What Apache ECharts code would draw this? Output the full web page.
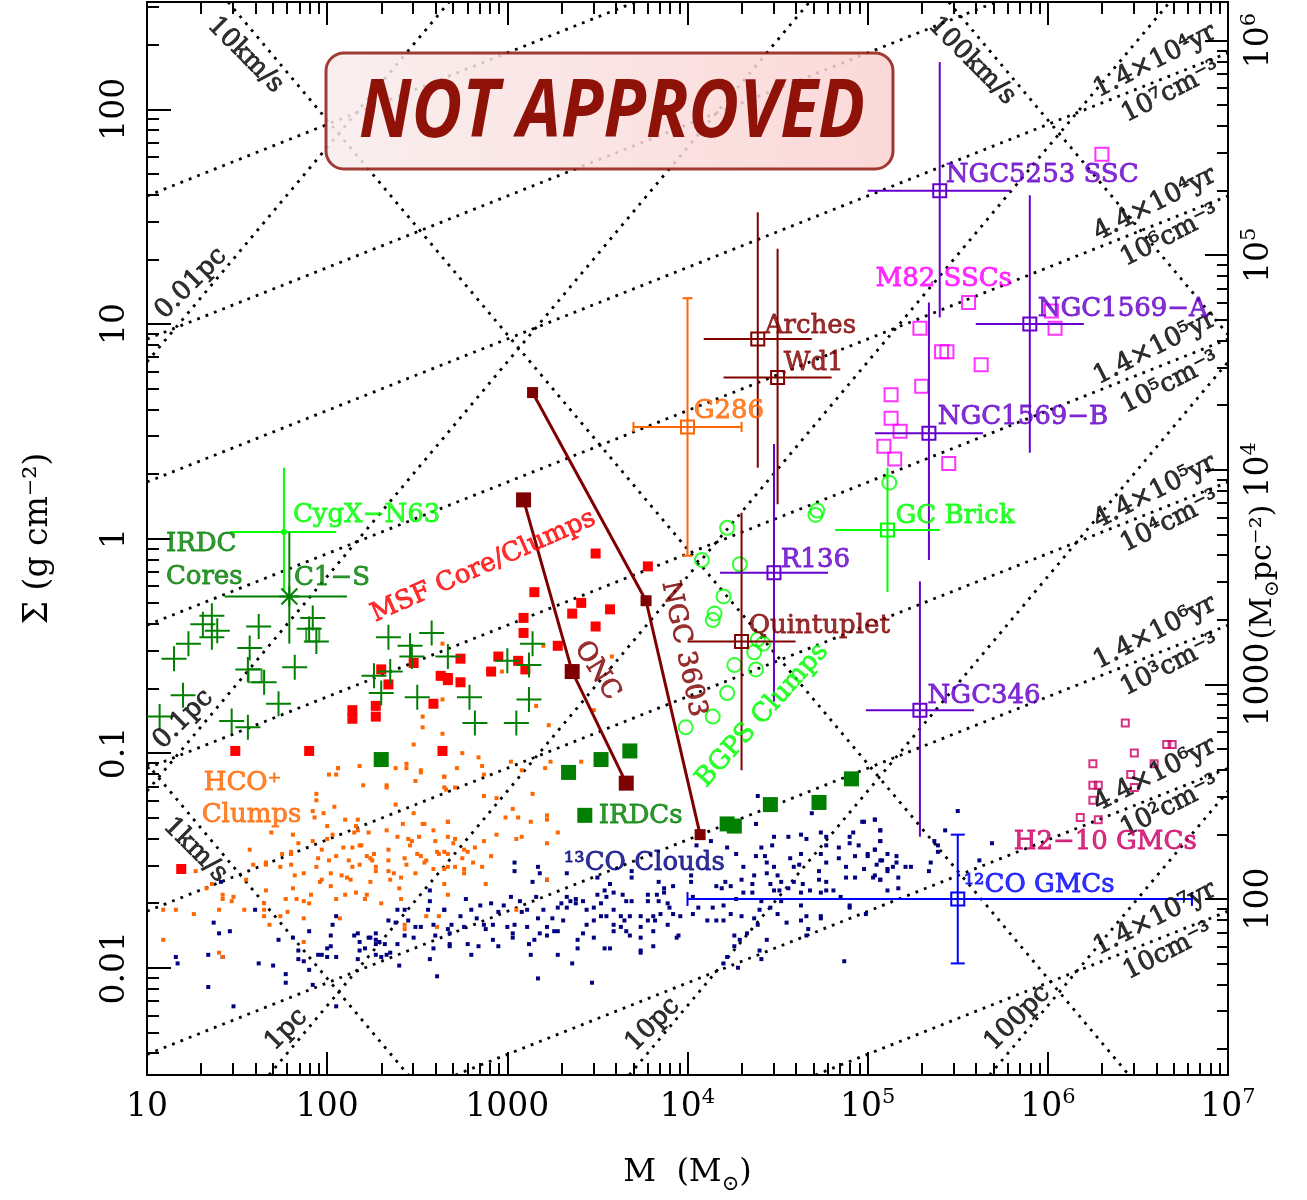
<!DOCTYPE html>
<html>
<head>
<meta charset="utf-8">
<title>Surface density vs mass</title>
<script src="https://cdn.jsdelivr.net/npm/echarts@6.0.0/dist/echarts.min.js"></script>
<style>
  html, body { margin: 0; padding: 0; background: #fff; }
  #chart { width: 1307px; height: 1200px; }
</style>
</head>
<body>
<div id="chart"></div>
<script>
// every value below is log10: x = log M (Msun), y = log Sigma (g cm^-2)
const xTicks = [1, 2, 3, 4, 5, 6, 7]
const xTickLabels = ['10', '100', '1000', '10^4', '10^5', '10^6', '10^7']
const yTicks = [-2, -1, 0, 1, 2]
const yTickLabels = ['0.01', '0.1', '1', '10', '100']
// right hand axis is Sigma in Msun pc^-2
const rightTicks = [2, 3, 4, 5, 6]
const rightTickLabels = ['100', '1000', '10^4', '10^5', '10^6']
const gcm2ToMsunPc2 = 3.680 // log10(4788)

const co13Clouds = [
  [1.16,-1.95],[1.17,-1.98],[1.34,-1.94],[1.34,-2.09],[1.37,-1.79],[1.40,-1.84],[1.42,-1.95],[1.46,-1.83],[1.48,-2.18],[1.41,-1.60],
  [1.60,-1.73],[1.62,-1.98],[1.70,-1.99],[1.73,-1.87],[1.77,-2.03],[1.77,-2.07],[1.81,-1.86],[1.84,-1.92],[1.84,-1.96],[1.87,-1.97],
  [1.90,-1.83],[1.90,-2.01],[1.92,-2.08],[1.95,-1.94],[1.97,-1.94],[2.00,-1.91],[2.00,-1.95],[2.02,-1.90],[2.02,-1.85],[2.03,-1.80],
  [2.05,-1.76],[2.05,-1.95],[2.05,-2.18],[2.15,-1.85],[2.17,-1.84],[2.18,-1.88],[2.18,-1.92],[2.17,-1.96],[2.21,-1.91],[2.23,-1.86],
  [2.24,-1.86],[2.27,-1.84],[2.27,-1.87],[2.27,-1.89],[2.29,-1.88],[2.27,-1.94],[2.32,-1.89],[2.33,-1.94],[2.30,-1.95],[2.35,-1.93],
  [2.39,-1.89],[2.40,-1.99],[2.39,-1.73],[2.43,-1.73],[2.45,-1.78],[2.34,-1.78],[2.38,-1.79],[2.43,-1.85],[2.48,-1.86],[2.49,-1.81],
  [2.52,-1.81],[2.57,-1.64],[2.57,-1.69],[2.56,-1.73],[2.59,-1.80],[2.60,-1.85],[2.59,-1.91],[2.57,-1.96],[2.61,-2.04],[2.65,-1.73],
  [2.67,-1.82],[2.68,-1.89],
  [3.04,-1.51],[3.04,-1.55],[3.17,-1.53],[3.18,-1.56],[3.14,-1.60],[3.33,-1.56],[3.50,-1.58],[3.57,-1.61],[3.69,-1.58],[3.69,-1.55],
  [3.84,-1.60],[3.92,-1.62],[3.87,-1.63],[4.02,-1.57],[4.02,-1.60],[4.05,-1.43],[4.13,-1.41],[4.22,-1.44],[4.27,-1.47],[4.31,-1.53],
  [4.39,-1.20],[4.38,-1.33],[4.48,-1.39],[4.56,-1.39],[4.63,-1.38],[4.66,-1.40],[4.74,-1.37],[4.77,-1.39],[4.77,-1.43],[4.84,-1.44],
  [4.90,-1.39],[4.90,-1.42],[4.92,-1.37],[4.95,-1.43],[5.04,-1.31],[5.07,-1.36],[5.07,-1.41],[5.04,-1.45],[5.00,-1.47],[4.69,-1.28],
  [4.97,-1.32],[4.41,-1.44],[4.47,-1.43],[4.38,-1.48],[4.43,-1.48],[4.44,-1.51],[4.48,-1.53],[4.57,-1.49],[4.63,-1.47],[4.62,-1.52],
  [4.59,-1.53],[4.74,-1.47],[4.77,-1.51],[4.84,-1.49],[4.93,-1.48],[5.11,-1.47],[5.08,-1.50],[5.11,-1.55],[4.73,-1.55],[4.73,-1.59],
  [4.88,-1.53],[4.88,-1.58],[4.93,-1.58],[5.03,-1.58],[5.07,-1.59],[4.77,-1.60],[4.77,-1.64],[4.81,-1.64],[4.85,-1.67],[4.90,-1.71],
  [4.90,-1.72],[4.63,-1.65],[4.68,-1.64],[4.74,-1.65],[4.63,-1.71],[4.66,-1.76],[4.74,-1.76],[4.63,-1.78],[4.74,-1.77],[4.67,-1.82],
  [4.66,-1.85],[4.87,-1.97],
  [4.03,-1.67],[4.06,-1.72],[4.03,-1.75],[4.11,-1.78],[4.16,-1.78],[4.20,-1.78],[4.14,-1.72],[4.20,-1.71],[4.24,-1.75],[4.27,-1.68],
  [4.31,-1.65],[4.36,-1.65],[4.41,-1.69],[4.46,-1.72],[4.50,-1.75],[4.52,-1.69],[4.40,-1.73],[4.37,-1.77],[4.30,-1.76],[4.26,-1.85],
  [4.29,-1.87],[4.33,-1.84],[4.39,-1.80],[4.44,-1.87],[4.55,-1.79],[4.40,-1.92],[4.41,-1.96],[4.28,-2.00],[4.26,-1.90],[4.22,-1.95],
  [4.20,-1.98],[4.16,-1.62],[4.21,-1.60],[4.30,-1.59],[4.36,-1.61],[4.37,-1.57],[4.44,-1.56],[4.50,-1.57],[4.52,-1.60],[4.56,-1.63],
  [4.59,-1.60],[4.64,-1.61],[4.48,-1.64],[4.51,-1.64],[4.46,-1.61],[4.24,-1.62],[4.19,-1.63],
  [3.38,-1.68],[3.38,-1.70],[3.42,-1.69],[3.44,-1.73],[3.48,-1.72],[3.50,-1.66],[3.52,-1.70],[3.54,-1.64],[3.55,-1.67],[3.59,-1.65],
  [3.64,-1.66],[3.66,-1.69],[3.69,-1.69],[3.74,-1.76],[3.78,-1.69],[3.78,-1.66],[3.83,-1.66],[3.84,-1.69],[3.87,-1.65],[3.89,-1.70],
  [3.90,-1.72],[3.92,-1.75],[3.96,-1.76],[3.85,-1.75],[3.81,-1.76],[3.78,-1.78],[3.74,-1.81],[3.68,-1.76],[3.65,-1.78],[3.63,-1.76],
  [3.59,-1.73],[3.55,-1.76],[3.52,-1.76],[3.48,-1.78],[3.44,-1.80],[3.42,-1.84],[3.48,-1.86],[3.54,-1.91],[3.57,-1.91],[3.59,-1.83],
  [3.63,-1.81],[3.66,-1.83],[3.68,-1.85],[3.74,-1.86],[3.74,-1.92],[3.74,-1.93],[3.81,-1.90],[3.81,-1.83],[3.94,-1.86],[3.95,-1.85],
  [3.82,-1.78],[3.89,-1.80],[3.59,-1.80],
  [2.65,-1.73],[2.68,-1.84],[2.69,-1.80],[2.68,-1.90],[2.74,-1.76],[2.76,-1.81],[2.77,-1.68],[2.80,-1.94],[2.78,-1.89],[2.80,-1.73],
  [2.83,-1.77],[2.84,-1.90],[2.85,-1.71],[2.87,-1.80],[2.88,-1.82],[2.91,-1.70],[2.92,-1.80],[2.92,-1.87],[2.95,-1.74],[2.95,-1.90],
  [2.98,-1.71],[3.00,-1.81],[3.02,-1.67],[3.03,-1.84],[3.03,-1.86],[3.04,-1.80],[3.07,-1.69],[3.08,-1.74],[3.11,-1.73],[3.11,-1.81],
  [3.12,-1.89],[3.13,-1.94],[3.15,-1.87],[3.17,-1.77],[3.18,-1.84],[3.16,-1.67],[3.20,-1.73],[3.22,-1.81],[3.22,-1.85],[3.26,-1.83],
  [3.28,-1.83],[3.28,-1.94],[3.25,-1.77],[3.28,-1.72],[3.30,-1.70],[3.33,-1.72],[3.31,-1.78],[3.33,-1.67],[3.35,-1.69],[3.39,-1.87],
  [3.39,-1.91],[3.36,-1.98],[3.17,-2.05],[3.47,-2.07],[3.22,-1.59],
  [4.98,-1.32],[5.04,-1.31],[5.07,-1.36],[5.07,-1.41],[5.04,-1.45],[5.00,-1.48],[4.98,-1.54],[5.05,-1.52],[5.07,-1.50],[5.11,-1.54],
  [5.14,-1.53],[5.16,-1.48],[5.16,-1.51],[5.17,-1.58],[5.17,-1.63],[5.11,-1.64],[5.04,-1.57],[5.07,-1.59],[5.21,-1.53],[5.24,-1.53],
  [5.35,-1.51],[5.34,-1.55],[5.37,-1.41],[5.39,-1.43],[5.39,-1.46],[5.43,-1.36],[5.50,-1.27],[5.62,-1.50],[5.69,-1.42],[4.99,-1.75]
]

const hcoClumps = [
  [1.09,-1.73],[1.16,-1.73],[1.09,-1.87],[1.26,-1.75],[1.27,-1.55],[1.33,-1.63],[1.36,-1.61],[1.40,-1.93],[1.42,-1.95],[1.40,-1.73],
  [1.42,-1.66],[1.42,-1.68],[1.48,-1.67],[1.47,-1.69],[1.54,-1.73],[1.55,-1.59],[1.57,-1.45],[1.59,-1.52],[1.65,-1.70],[1.65,-1.73],
  [1.65,-1.76],[1.66,-1.64],[1.66,-1.51],[1.66,-1.52],[1.68,-1.80],[1.69,-1.37],[1.74,-1.53],[1.74,-1.76],[1.75,-1.47],[1.77,-1.68],
  [1.78,-1.74],[1.80,-1.46],[1.80,-1.52],[1.80,-1.47],[1.81,-1.38],[1.81,-1.63],[1.82,-1.57],[1.83,-1.68],[1.84,-1.42],[1.87,-1.56],
  [1.87,-1.69],[1.87,-1.77],[1.87,-1.88],[1.90,-1.70],[1.91,-1.66],[1.92,-1.27],[1.92,-1.41],[1.93,-1.30],[1.94,-1.22],[1.94,-1.19],
  [1.94,-1.53],[1.95,-1.49],[1.96,-1.60],[1.97,-1.59],[1.97,-1.45],[1.98,-1.28],[2.00,-1.40],[2.00,-1.34],[2.01,-1.50],[2.02,-1.62],
  [2.02,-1.56],[2.03,-1.38],[2.04,-1.25],[2.05,-1.48],[2.05,-1.68],[2.06,-1.07],[2.01,-1.10],[2.05,-1.10],[2.07,-1.77],[2.08,-1.57],
  [2.09,-1.44],[2.10,-1.31],[2.10,-1.66],[2.11,-1.58],[2.12,-1.50],[2.13,-1.59],[2.14,-1.53],[2.15,-1.37],[2.14,-1.44],[2.16,-1.65],
  [2.16,-1.34],[2.17,-1.31],[2.17,-1.36],[2.18,-1.43],[2.18,-1.52],[2.19,-1.43],[2.20,-1.15],[2.21,-1.68],[2.22,-1.66],[2.22,-1.48],
  [2.23,-1.37],[2.24,-1.60],[2.24,-1.49],[2.25,-1.50],[2.26,-1.47],[2.27,-1.55],[2.27,-1.53],[2.30,-1.70],[2.33,-1.15],[2.33,-1.16],
  [2.33,-1.36],[2.34,-1.45],[2.34,-1.50],[2.34,-1.55],[2.35,-1.59],[2.37,-1.56],[2.38,-1.24],[2.39,-1.39],[2.40,-1.63],[2.41,-1.58],
  [2.41,-1.68],[2.42,-1.33],[2.43,-1.82],[2.43,-1.80],[2.43,-1.49],[2.44,-1.07],[2.44,-1.52],[2.45,-1.40],[2.46,-1.43],[2.47,-1.41],
  [2.48,-1.28],[2.49,-1.13],[2.49,-1.56],[2.50,-1.47],[2.51,-1.39],[2.52,-1.48],[2.52,-1.08],[2.53,-1.33],[2.54,-1.33],[2.54,-1.51],
  [2.55,-1.50],[2.55,-1.76],[2.59,-1.36],[2.59,-1.54],[2.60,-1.41],[2.61,-1.46],[2.62,-1.47],[2.61,-1.81],[2.62,-1.76],[2.65,-1.11],
  [2.66,-1.17],[2.67,-1.32],[2.67,-1.53],[2.67,-1.39],
  [2.64,-0.49],[2.53,-0.83],[2.53,-0.88],[2.64,-0.91],[2.48,-0.96],[2.44,-1.05],[2.38,-1.07],[2.18,-1.06],[2.06,-1.07],[2.52,-1.09],
  [2.64,-0.75],[2.97,-0.62],[3.20,-0.50],[3.58,-0.55],[3.48,-0.80],[3.16,-0.78],[3.23,-0.87],[2.75,-1.00],[2.84,-1.02],[2.86,-1.06],
  [2.72,-1.07],[3.02,-1.04],[3.08,-1.08],[3.24,-1.04],[3.41,-1.04],[3.21,-1.07],
  [2.87,-1.10],[2.65,-1.16],[2.71,-1.16],[2.65,-1.11],[2.87,-1.20],[2.94,-1.21],[2.99,-1.30],[3.03,-1.26],[3.06,-1.30],[3.13,-1.32],
  [3.22,-1.29],[3.22,-1.31],[3.14,-1.19],[3.28,-1.37],[3.22,-1.42],[3.05,-1.40],[3.08,-1.39],[2.94,-1.38],[2.87,-1.41],[2.82,-1.44],
  [2.71,-1.40],[2.70,-1.42],[2.76,-1.45],[2.75,-1.49],[2.67,-1.47],[2.67,-1.32],[2.78,-1.46],[2.76,-1.56],[2.81,-1.51],[2.86,-1.53],
  [2.91,-1.48],[2.76,-1.54],[2.88,-1.61],[2.71,-1.53],[2.65,-1.46],[2.65,-1.54],[2.67,-1.66],[3.05,-1.73],[3.22,-1.59],[2.65,-1.61]
]

const msfClumps = [
  [1.19,-1.54],[2.30,-0.61],[2.34,-0.68],[2.63,-0.64],[2.67,-0.65],[2.48,-0.58],[2.59,-0.77],[2.14,-0.80],[2.14,-0.84],[2.27,-0.78],
  [2.27,-0.83],[1.49,-0.99],[1.90,-0.99],[2.64,-0.99],[3.49,-0.07],[3.78,-0.13],[3.15,-0.25],[3.41,-0.30],[3.57,-0.33],[3.36,-0.35],
  [3.49,-0.41],[3.09,-0.37],[3.09,-0.44],[3.28,-0.50],[2.74,-0.56],[2.95,-0.55],[3.06,-0.57],[3.10,-0.61],[2.91,-0.62],[2.67,-0.66],
  [2.74,-0.67]
]

const irdcCores = [
  [1.36,-0.36],[1.31,-0.40],[1.39,-0.43],[1.36,-0.46],[1.23,-0.49],[1.15,-0.56],[1.62,-0.41],[1.57,-0.51],[1.56,-0.61],[1.65,-0.67],
  [1.82,-0.60],[1.20,-0.73],[1.07,-0.83],[1.47,-0.85],[1.56,-0.88],[1.73,-0.77],[1.92,-0.37],[1.90,-0.42],[1.94,-0.48],[2.34,-0.46],
  [2.46,-0.50],[2.47,-0.55],[2.58,-0.44],[2.26,-0.64],[2.35,-0.62],[2.30,-0.72],[2.50,-0.74],[2.67,-0.55],[3.14,-0.49],[3.00,-0.57],
  [3.12,-0.59],[2.79,-0.74],[3.12,-0.75],[2.82,-0.86],[3.05,-0.86]
]
const irdcCoreBoxes = [[1.60,-0.64],[1.92,-0.45]]

const irdcs = [[2.30,-1.03],[3.34,-1.09],[3.43,-1.29],[3.52,-1.03],[3.68,-0.99],[4.22,-1.33],[4.26,-1.34],[4.46,-1.24],[4.73,-1.23],[4.91,-1.12]]

const bgpsClumps = [
  [4.08,-0.10],[4.22,0.05],[4.29,-0.12],[4.20,-0.27],[4.14,-0.38],[4.15,-0.35],[4.72,0.13],[4.71,0.11],[4.39,-0.47],[4.42,-0.49],
  [4.37,-0.53],[4.26,-0.59],[4.38,-0.61],[4.22,-0.72],[4.14,-0.83],[3.99,-0.88],[5.12,0.26]
]

const onc = [[3.09,0.18],[3.36,-0.62],[3.66,-1.14]]
const ngc3603 = [[3.14,0.68],[3.77,-0.29],[4.07,-1.38]]

const m82SSCs = [
  [6.30,1.79],[5.56,1.10],[5.29,0.98],[6.04,0.98],[5.41,0.87],[5.44,0.87],[5.63,0.81],[5.30,0.71],[5.13,0.67],[5.13,0.56],
  [5.18,0.50],[5.09,0.43],[5.15,0.37],[5.45,0.35],[6.02,1.06]
]

const h210GMCs = [
  [6.43,-0.86],[6.48,-1.00],[6.66,-0.96],[6.69,-0.96],[6.25,-1.05],[6.59,-1.05],[6.46,-1.10],[6.25,-1.15],[6.28,-1.15],[6.48,-1.16],
  [6.25,-1.22],[6.18,-1.30],[6.28,-1.31]
]

// [log M, log Sigma, log M low, log M high, log Sigma low, log Sigma high]
const cygxN63 = [1.76, 0.03, 1.46, 2.05, -0.25, 0.33]
const c1S = [1.79, -0.27, 1.43, 2.11, -0.49, 0.03]
const g286 = [4.00, 0.52, 3.70, 4.30, -0.08, 1.12]
const arches = [4.39, 0.93, 4.09, 4.69, 0.33, 1.52]
const wd1 = [4.50, 0.75, 4.20, 4.80, 0.16, 1.35]
const quintuplet = [4.30, -0.48, 4.00, 4.60, -1.08, 0.12]
const r136 = [4.48, -0.16, 4.18, 4.78, -0.76, 0.44]
const ngc5253 = [5.40, 1.62, 5.00, 5.79, 1.03, 2.22]
const ngc1569A = [5.90, 1.00, 5.60, 6.20, 0.40, 1.60]
const ngc1569B = [5.34, 0.49, 5.04, 5.64, -0.10, 1.10]
const ngc346 = [5.29, -0.80, 4.99, 5.59, -1.39, -0.20]
const gcBrick = [5.11, 0.04, 4.82, 5.40, -0.25, 0.33]
const co12GMCs = [5.50, -1.68, 4.00, 6.80, -1.98, -1.38]

// dotted guide lines: end points where they leave the frame
const radiusLines = [
  [[1, 0.823], [2.677, 2.5]],   // 0.01 pc
  [[1, -1.177], [4.677, 2.5]],  // 0.1 pc
  [[1.677, -2.5], [6.677, 2.5]],// 1 pc
  [[3.677, -2.5], [7, 0.823]],  // 10 pc
  [[5.677, -2.5], [7, -1.177]]  // 100 pc
]
const sigmaLines = [
  [[1, -1.05], [2.45, -2.5]],   // 1 km/s
  [[1.45, 2.5], [6.45, -2.5]],  // 10 km/s
  [[5.45, 2.5], [7, 0.95]]      // 100 km/s
]
const densityLines = [
  [[1, 1.596], [3.711, 2.5]],   // 1e9 cm-3
  [[1, 0.929], [5.712, 2.5]],   // 1e8
  [[1, 0.263], [7, 2.263]],     // 1e7
  [[1, -0.404], [7, 1.596]],
  [[1, -1.071], [7, 0.929]],
  [[1, -1.737], [7, 0.263]],
  [[1, -2.404], [7, -0.404]],
  [[2.712, -2.5], [7, -1.071]],
  [[4.71, -2.5], [7, -1.737]]   // 10 cm-3
]

const C = {
  navy: '#000080', orange: '#ff6600', red: '#ff0000', green: '#007f00', lime: '#00ff00',
  maroon: '#800000', purple: '#6600cc', magenta: '#ff00ff', crimson: '#cc0066', blue: '#0000ff'
}
const serif = 'DejaVu Serif'

// text annotations: [text, log M, log Sigma, anchor, rotate, colour]
const notes = [
  ['10km/s', 1.546, 2.252, 'c', -45, '#000'],
  ['100km/s', 5.578, 2.225, 'c', -45, '#000'],
  ['1km/s', 1.268, -1.452, 'c', -45, '#000'],
  ['0.01pc', 1.245, 1.188, 'c', 45, '#000'],
  ['0.1pc', 1.202, -0.843, 'c', 45, '#000'],
  ['1pc', 1.773, -2.289, 'c', 45, '#000'],
  ['10pc', 3.807, -2.265, 'c', 45, '#000'],
  ['100pc', 5.832, -2.234, 'c', 45, '#000'],
  ['1.4×10⁴yr', 6.595, 2.224, 'c', 27, '#000'],
  ['10⁷cm⁻³', 6.684, 2.081, 'c', 27, '#000'],
  ['4.4×10⁴yr', 6.595, 1.558, 'c', 27, '#000'],
  ['10⁶cm⁻³', 6.679, 1.410, 'c', 27, '#000'],
  ['1.4×10⁵yr', 6.595, 0.887, 'c', 27, '#000'],
  ['10⁵cm⁻³', 6.679, 0.725, 'c', 27, '#000'],
  ['4.4×10⁵yr', 6.595, 0.217, 'c', 27, '#000'],
  ['10⁴cm⁻³', 6.679, 0.078, 'c', 27, '#000'],
  ['1.4×10⁶yr', 6.595, -0.439, 'c', 27, '#000'],
  ['10³cm⁻³', 6.679, -0.592, 'c', 27, '#000'],
  ['4.4×10⁶yr', 6.595, -1.101, 'c', 27, '#000'],
  ['10²cm⁻³', 6.679, -1.249, 'c', 27, '#000'],
  ['1.4×10⁷yr', 6.595, -1.772, 'c', 27, '#000'],
  ['10cm⁻³', 6.668, -1.925, 'c', 27, '#000'],
  ['CygX−N63', 1.807, 0.110, 'l', 0, C.lime],
  ['C1−S', 1.813, -0.186, 'l', 0, C.green],
  ['IRDC', 1.102, -0.028, 'l', 0, C.green],
  ['Cores', 1.102, -0.181, 'l', 0, C.green],
  ['MSF Core/Clumps', 2.867, -0.130, 'c', 24, C.red],
  ['HCO⁺', 1.312, -1.142, 'l', 0, C.orange],
  ['Clumps', 1.301, -1.290, 'l', 0, C.orange],
  ['IRDCs', 3.504, -1.295, 'l', 0, C.green],
  ['¹³CO Clouds', 3.311, -1.512, 'l', 0, C.navy],
  ['ONC', 3.498, -0.616, 'c', -58, C.maroon],
  ['NGC 3603', 3.978, -0.515, 'c', -78, C.maroon],
  ['BGPS Clumps', 4.415, -0.824, 'c', 48, C.lime],
  ['G286', 4.032, 0.591, 'l', 0, C.orange],
  ['Arches', 4.426, 0.989, 'l', 0, C.maroon],
  ['Wd1', 4.531, 0.818, 'l', 0, C.maroon],
  ['Quintuplet', 4.337, -0.408, 'l', 0, C.maroon],
  ['R136', 4.515, -0.102, 'l', 0, C.purple],
  ['NGC5253 SSC', 5.430, 1.692, 'l', 0, C.purple],
  ['M82 SSCs', 5.041, 1.207, 'l', 0, C.magenta],
  ['NGC1569−A', 5.941, 1.068, 'l', 0, C.purple],
  ['NGC1569−B', 5.386, 0.564, 'l', 0, C.purple],
  ['GC Brick', 5.152, 0.106, 'l', 0, C.lime],
  ['NGC346', 5.330, -0.736, 'l', 0, C.purple],
  ['H2−10 GMCs', 5.808, -1.415, 'l', 0, C.crimson],
  ['¹²CO GMCs', 5.530, -1.614, 'l', 0, C.blue]
]

const chart = echarts.init(document.getElementById('chart'))

const tickRich = {
  b: { fontSize: 33, fontFamily: serif, color: '#000', lineHeight: 40 },
  s: { fontSize: 21, fontFamily: serif, color: '#000', lineHeight: 21, verticalAlign: 'top' }
}
const richText = s => {
  const [base, exp] = s.split('^')
  return exp ? '{b|' + base + '}{s|' + exp + '}' : '{b|' + base + '}'
}
const labelLookup = (values, labels) => v => {
  const i = values.findIndex(t => Math.abs(t - v) < 1e-6)
  return i < 0 ? '' : richText(labels[i])
}

// minor ticks at 2..9 of each decade, shift moves them onto the right hand scale
const minorTicks = (lo, hi, shift) => {
  const out = []
  for (let d = Math.floor(lo + shift) - 1; d <= Math.ceil(hi + shift); d++) {
    for (let k = 2; k <= 9; k++) {
      const v = d + Math.log10(k) - shift
      if (v > lo + 1e-9 && v < hi - 1e-9) out.push(v)
    }
  }
  return out
}

const makeAxis = (dim, position, ticks, len, label) => ({
  type: 'value', position,
  min: dim === 'x' ? 1 : -2.5, max: dim === 'x' ? 7 : 2.5,
  axisLine: { show: len > 15, onZero: false, lineStyle: { color: '#000', width: 2 } },
  axisTick: { show: true, inside: true, length: len, customValues: ticks, lineStyle: { color: '#000', width: 2 } },
  axisLabel: label || { show: false },
  splitLine: { show: false }
})

const rightMajor = rightTicks.map(t => t - gcm2ToMsunPc2)

const xAxes = [
  Object.assign(makeAxis('x', 'bottom', xTicks, 23, {
    show: true, customValues: xTicks, margin: 12, rich: tickRich,
    formatter: labelLookup(xTicks, xTickLabels)
  }), {
    name: 'M  (M{sub|⊙})', nameLocation: 'middle', nameGap: 76,
    nameTextStyle: {
      fontFamily: serif, fontSize: 32, color: '#000', lineHeight: 44,
      rich: { sub: { fontFamily: serif, fontSize: 21, color: '#000', lineHeight: 20, verticalAlign: 'bottom' } }
    }
  }),
  makeAxis('x', 'bottom', minorTicks(1, 7, 0), 12),
  makeAxis('x', 'top', xTicks, 23),
  makeAxis('x', 'top', minorTicks(1, 7, 0), 12)
]
const yAxes = [
  Object.assign(makeAxis('y', 'left', yTicks, 24, {
    show: true, customValues: yTicks, margin: 12, rotate: 90, rich: tickRich,
    formatter: labelLookup(yTicks, yTickLabels)
  }), {
    name: 'Σ (g cm⁻²)', nameLocation: 'middle', nameRotate: 90, nameGap: 92,
    nameTextStyle: { fontFamily: serif, fontSize: 33, color: '#000' }
  }),
  makeAxis('y', 'left', minorTicks(-2.5, 2.5, 0), 12),
  makeAxis('y', 'right', rightMajor, 23, {
    show: true, customValues: rightMajor, margin: 11, rotate: 90, rich: tickRich,
    formatter: labelLookup(rightMajor, rightTickLabels)
  }),
  makeAxis('y', 'right', minorTicks(-2.5, 2.5, gcm2ToMsunPc2), 11)
]

const guide = (pts) => ({
  type: 'line', data: pts, silent: true, z: 1, symbol: 'none', animation: false,
  lineStyle: { color: '#000', width: 2.8, type: [2.8, 6.2], cap: 'butt' }
})

const plusPath = 'path://M46,0H54V46H100V54H54V100H46V54H0V46H46Z'

const dots = (data, color, size, symbol, z, open) => ({
  type: 'scatter', data, symbol: symbol || 'rect', symbolSize: size, z: z || 3, silent: true,
  itemStyle: open
    ? { color: 'rgba(0,0,0,0)', borderColor: color, borderWidth: 2 }
    : { color, opacity: 1 }
})

const errorBars = (row, color, marker, cap) => ({
  type: 'custom', data: [row], z: 8, silent: true,
  renderItem: (params, api) => {
    const c = api.coord([api.value(0), api.value(1)])
    const xl = api.coord([api.value(2), api.value(1)])[0]
    const xh = api.coord([api.value(3), api.value(1)])[0]
    const yl = api.coord([api.value(0), api.value(4)])[1]
    const yh = api.coord([api.value(0), api.value(5)])[1]
    const st = { stroke: color, lineWidth: 2, fill: 'none' }
    const ln = (x1, y1, x2, y2) => ({ type: 'line', shape: { x1, y1, x2, y2 }, style: st })
    const kids = [ln(xl, c[1], xh, c[1]), ln(c[0], yl, c[0], yh)]
    if (cap) {
      kids.push(ln(xl, c[1] - cap, xl, c[1] + cap), ln(xh, c[1] - cap, xh, c[1] + cap))
      kids.push(ln(c[0] - cap, yl, c[0] + cap, yl), ln(c[0] - cap, yh, c[0] + cap, yh))
    }
    if (marker === 'square') {
      kids.push({ type: 'rect', shape: { x: c[0] - 6.5, y: c[1] - 6.5, width: 13, height: 13 }, style: st })
    } else if (marker === 'dot') {
      kids.push({ type: 'circle', shape: { cx: c[0], cy: c[1], r: 3 }, style: { fill: color } })
    } else if (marker === 'star') {
      const r = 8
      kids.push(ln(c[0] - r, c[1] - r, c[0] + r, c[1] + r), ln(c[0] - r, c[1] + r, c[0] + r, c[1] - r))
      kids.push(ln(c[0] - 10, c[1], c[0] + 10, c[1]), ln(c[0], c[1] - 10, c[0], c[1] + 10))
    }
    return { type: 'group', children: kids }
  }
})

const cluster = (data, size) => ({
  type: 'line', data, symbol: 'rect', symbolSize: size, showSymbol: true, z: 7, silent: true,
  itemStyle: { color: '#7f0000' }, lineStyle: { color: '#7f0000', width: 3 }
})

const labelSeries = {
  type: 'scatter', z: 20, silent: true, symbolSize: 1, itemStyle: { color: 'rgba(0,0,0,0)' },
  data: notes.map(([text, x, y, anchor, rot, color]) => ({
    value: [x, y],
    label: {
      show: true, formatter: text, position: anchor === 'l' ? 'right' : 'inside', distance: 0,
      rotate: rot, color, fontSize: 26, fontFamily: serif, align: anchor === 'l' ? 'left' : 'center',
      verticalAlign: 'middle', textBorderColor: color, textBorderWidth: 0.8
    }
  }))
}

const series = [
  ...radiusLines.map(guide),
  ...sigmaLines.map(guide),
  ...densityLines.map(guide),
  dots(co13Clouds, C.navy, 4, 'rect', 3),
  dots(hcoClumps, C.orange, 4, 'rect', 3),
  dots(msfClumps, C.red, 10, 'rect', 4),
  dots(irdcCores, C.green, 25, plusPath, 4),
  dots(irdcCoreBoxes, C.green, 13, 'rect', 4, true),
  dots(irdcs, C.green, 15, 'rect', 4),
  dots(bgpsClumps, C.lime, 14, 'circle', 5, true),
  dots(m82SSCs, C.magenta, 13, 'rect', 5, true),
  dots(h210GMCs, C.crimson, 7, 'rect', 5, true),
  cluster(onc, 15),
  cluster(ngc3603, 11),
  errorBars(cygxN63, C.lime, 'dot'),
  errorBars(c1S, C.green, 'star'),
  errorBars(g286, C.orange, 'square', 5),
  errorBars(arches, C.maroon, 'square'),
  errorBars(wd1, C.maroon, 'square'),
  errorBars(quintuplet, C.maroon, 'square'),
  errorBars(r136, C.purple, 'square'),
  errorBars(ngc5253, C.purple, 'square'),
  errorBars(ngc1569A, C.purple, 'square'),
  errorBars(ngc1569B, C.purple, 'square'),
  errorBars(ngc346, C.purple, 'square'),
  errorBars(gcBrick, C.lime, 'square'),
  errorBars(co12GMCs, C.blue, 'square', 7),
  labelSeries
]

chart.setOption({
  animation: false,
  backgroundColor: '#fff',
  grid: { left: 147, right: 79, top: 2, bottom: 117 },
  xAxis: xAxes,
  yAxis: yAxes,
  series,
  graphic: [
    {
      type: 'rect', z: 50, shape: { x: 326, y: 53, width: 567, height: 116, r: 18 },
      style: {
        fill: new echarts.graphic.LinearGradient(0, 0, 1, 0, [
          { offset: 0, color: '#f9ecec' }, { offset: 1, color: '#fbd2d2' }
        ]),
        stroke: '#8e1a10', lineWidth: 3, opacity: 0.85
      }
    },
    {
      type: 'text', z: 51, x: 612, y: 114, scaleX: 0.87,
      style: {
        text: 'NOT APPROVED', fontFamily: 'Open Sans', fontWeight: 'bold', fontStyle: 'italic', fontSize: 80,
        fill: '#8f1208', align: 'center', verticalAlign: 'middle', textAlign: 'center', textVerticalAlign: 'middle'
      }
    },
    {
      type: 'text', z: 10, x: 1263, y: 572, rotation: Math.PI / 2,
      style: {
        text: '(M{sub|⊙}pc⁻²)', fontFamily: serif, fontSize: 30, fill: '#000', lineHeight: 40,
        align: 'center', verticalAlign: 'middle', textAlign: 'center', textVerticalAlign: 'middle',
        rich: { sub: { fontFamily: serif, fontSize: 20, fill: '#000', lineHeight: 20, verticalAlign: 'bottom' } }
      }
    }
  ]
})
</script>
</body>
</html>
